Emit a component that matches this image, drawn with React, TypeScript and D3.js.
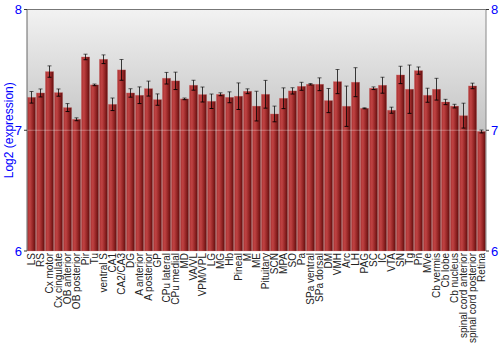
import React from "react";
import * as d3 from "d3";

const categories = ["LS","RS","Cx motor","Cx cingulate","OB anterior","OB posterior","Pir","Tu","ventral S","CA1","CA2/CA3","DG","A anterior","A posterior","GP","CPu lateral","CPu medial","MD","VA/VL","VPM/VPL","LG","MG","Hb","Pineal","M","ME","Pituitary","SCN","MPA","SO","Pa","SPa ventral","SPa dorsal","DM","VMH","Arc","LH","PAG","SC","IC","VTA","SN","Tg","Pn","MVe","Cb vermis","Cb lobe","Cb nucleus","spinal cord anterior","spinal cord posterior","Retina"];
const values = [7.273,7.309,7.486,7.312,7.188,7.091,7.607,7.376,7.588,7.215,7.50,7.309,7.29,7.345,7.254,7.431,7.409,7.26,7.373,7.296,7.24,7.298,7.273,7.282,7.323,7.2,7.298,7.135,7.265,7.326,7.364,7.381,7.381,7.246,7.403,7.199,7.398,7.182,7.348,7.373,7.166,7.458,7.34,7.494,7.29,7.34,7.234,7.2,7.121,7.367,6.99];
const errors = [0.048,0.033,0.047,0.03,0.033,0.012,0.023,0.007,0.036,0.052,0.086,0.035,0.069,0.062,0.047,0.048,0.072,0.007,0.041,0.062,0.06,0.012,0.045,0.11,0.02,0.123,0.115,0.065,0.086,0.026,0.033,0.006,0.053,0.1,0.1,0.167,0.12,0.004,0.011,0.066,0.025,0.072,0.2,0.03,0.058,0.09,0.022,0.015,0.103,0.023,0.012];
const yTicks = [6, 7, 8];

export default function App() {
  const W = 500, H = 350;
  const left = 27, right = 486, top = 9.5, bottom = 251;
  const x = d3.scaleBand<string>().domain(categories).range([left, right]).paddingInner(0.08).paddingOuter(0.04);
  const y = d3.scaleLinear().domain([6, 8]).range([bottom, top]);
  const bw = x.bandwidth();
  const font = "Liberation Sans, Arial, sans-serif";
  return (
    <svg width={W} height={H} style={{ position: "absolute", left: 0, top: 0 }} fontFamily={font}>
      <defs>
        <linearGradient id="bg" x1="0" y1="0" x2="0" y2="1">
          <stop offset="0" stopColor="#f2f2f2" />
          <stop offset="0.5" stopColor="#c4c4c4" />
          <stop offset="1" stopColor="#a8a8a8" />
        </linearGradient>
        <linearGradient id="bar" x1="0" y1="0" x2="1" y2="0">
          <stop offset="0" stopColor="#a83030" />
          <stop offset="0.3" stopColor="#c04343" />
          <stop offset="0.65" stopColor="#962626" />
          <stop offset="1" stopColor="#5e0c0c" />
        </linearGradient>
      </defs>
      <rect x={left} y={top} width={right - left} height={bottom - top} fill="url(#bg)" />
      {categories.map((c, i) => {
        const x0 = x(c)!;
        const yv = y(values[i]);
        return (
          <rect key={c} x={x0} y={yv} width={bw} height={bottom - yv} fill="url(#bar)" stroke="#d87a7a" strokeOpacity={0.45} strokeWidth={0.6} />
        );
      })}
      <line x1={left} x2={right} y1={y(7)} y2={y(7)} stroke="#ffffff" strokeOpacity={0.3} strokeWidth={1} />
      {categories.map((c, i) => {
        const cx = x(c)! + bw / 2;
        const y1 = y(values[i] + errors[i]);
        const y2 = y(values[i] - errors[i]);
        return (
          <g key={"e" + c} stroke="#000" strokeWidth={1}>
            <line x1={cx} x2={cx} y1={y1} y2={y2} strokeOpacity={0.75} />
            <line x1={cx - 2} x2={cx + 2} y1={y1} y2={y1} strokeOpacity={0.6} />
            <line x1={cx - 2} x2={cx + 2} y1={y2} y2={y2} strokeOpacity={0.9} />
          </g>
        );
      })}
      <line x1={left} x2={right} y1={top} y2={top} stroke="#777" strokeWidth={1} />
      <line x1={left} x2={left} y1={top} y2={bottom} stroke="#666" strokeWidth={1} />
      <line x1={right} x2={right} y1={top} y2={bottom} stroke="#888" strokeWidth={1} />
      {yTicks.map((t) => (
        <g key={t}>
          <line x1={left - 3} x2={left} y1={y(t)} y2={y(t)} stroke="#333" />
          <text x={left - 5} y={y(t)} dy="0.35em" textAnchor="end" fontSize={13} fill="#0000ff">{t}</text>
          <line x1={right} x2={right + 3} y1={y(t)} y2={y(t)} stroke="#333" />
          <text x={right + 5} y={y(t)} dy="0.35em" textAnchor="start" fontSize={13} fill="#0000ff">{t}</text>
        </g>
      ))}
      <text transform={`translate(13,${(top + bottom) / 2}) rotate(-90)`} textAnchor="middle" fontSize={12} fill="#0000ff">Log2 (expression)</text>
      {categories.map((c) => (
        <text key={"l" + c} transform={`translate(${x(c)! + bw / 2},${bottom + 2}) rotate(-90)`} textAnchor="end" dy="0.35em" fontSize={10} fill="#222">{c}</text>
      ))}
    </svg>
  );
}
